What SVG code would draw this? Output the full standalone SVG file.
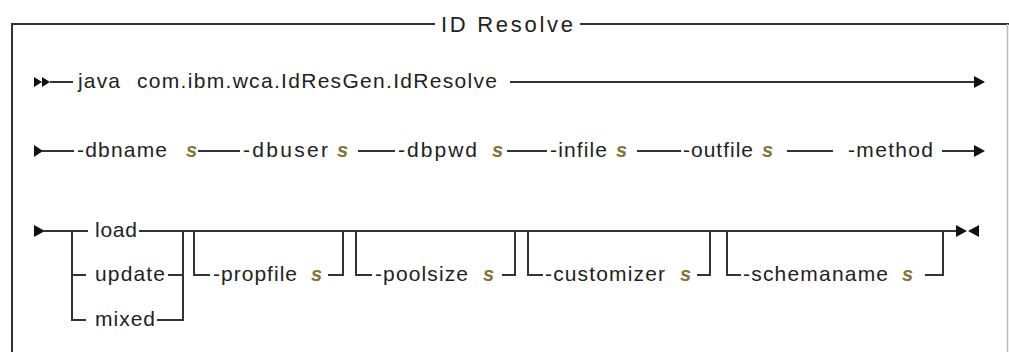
<svg xmlns="http://www.w3.org/2000/svg" width="1009" height="352" viewBox="0 0 1009 352">
<style>
.t{font-family:"Liberation Sans",Arial,sans-serif;font-size:21px;fill:#222}
.h{font-family:"Liberation Sans",Arial,sans-serif;font-size:22px;fill:#222}
.v{font-family:"Liberation Sans",Arial,sans-serif;font-size:20px;font-style:italic;font-weight:bold;fill:#857435}
.l{fill:none;stroke:#333;stroke-width:2}
.a{fill:#111}
</style>
<rect width="1009" height="352" fill="#fff"/>
<g id="frame">
<path class="l" d="M12,352 V24 H435 M580,24 H1009"/>
<path d="M1007.5,24 V352" fill="none" stroke="#bbb" stroke-width="1.5"/>
<text class="h" x="441" y="32" textLength="132">ID Resolve</text>
</g>
<g id="connectors">
<path class="a" d="M34,77 L42,82 L34,87 Z M42,77 L50,82 L42,87 Z"/>
<path class="l" d="M50,82 H73 M510,82 H976"/>
<path class="a" d="M974,76 L985,82 L974,88 Z"/>
<path class="a" d="M34,145 L43,151 L34,157 Z"/>
<path class="l" d="M42,151 H74 M198,151 H240 M358,151 H395 M507,151 H547 M637,151 H681 M787,151 H833 M942,151 H976"/>
<path class="a" d="M974,145 L985,151 L974,157 Z"/>
<path class="a" d="M34,225 L45,231 L34,237 Z"/>
<path class="l" d="M44,231 H88 M72,231 V320 H86 M72,275 H86 M139,231 H957 M168,275 H183 M157,320 H183 V231"/>
<path class="l" d="M194,231 V275 H210 M328,275 H343 V231"/>
<path class="l" d="M356,231 V275 H372 M502,275 H515 V231"/>
<path class="l" d="M528,231 V275 H543 M697,275 H710 V231"/>
<path class="l" d="M727,231 V275 H741 M925,275 H943 V231"/>
<path class="a" d="M956,225 L967,231 L956,237 Z M979,225 L968,231 L979,237 Z"/>
</g>
<g id="row1">
<text class="t" x="78" y="88" textLength="42">java</text>
<text class="t" x="137" y="88" textLength="360">com.ibm.wca.IdResGen.IdResolve</text>
</g>
<g id="row2">
<text class="t" x="77" y="157" textLength="90">-dbname</text><text class="v" x="186" y="157">s</text>
<text class="t" x="243" y="157" textLength="85">-dbuser</text><text class="v" x="337" y="157">s</text>
<text class="t" x="398" y="157" textLength="79">-dbpwd</text><text class="v" x="492" y="157">s</text>
<text class="t" x="550" y="157" textLength="57">-infile</text><text class="v" x="616" y="157">s</text>
<text class="t" x="683" y="157" textLength="70">-outfile</text><text class="v" x="762" y="157">s</text>
<text class="t" x="848" y="157" textLength="85">-method</text>
</g>
<g id="method">
<text class="t" x="95" y="237" textLength="42">load</text>
<text class="t" x="95" y="281" textLength="70">update</text>
<text class="t" x="95" y="326" textLength="60">mixed</text>
</g>
<g id="propfile"><text class="t" x="213" y="281" textLength="84">-propfile</text><text class="v" x="311" y="281">s</text></g>
<g id="poolsize"><text class="t" x="375" y="281" textLength="93">-poolsize</text><text class="v" x="483" y="281">s</text></g>
<g id="customizer"><text class="t" x="545" y="281" textLength="120">-customizer</text><text class="v" x="680" y="281">s</text></g>
<g id="schemaname"><text class="t" x="743" y="281" textLength="145">-schemaname</text><text class="v" x="902" y="281">s</text></g>
</svg>
